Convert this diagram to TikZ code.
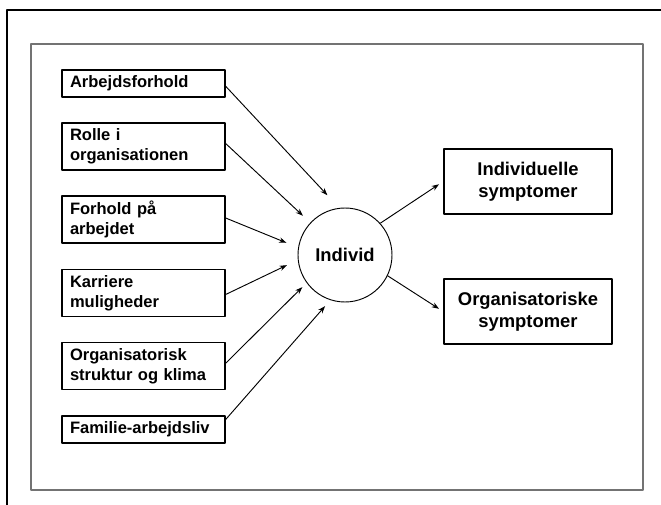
\documentclass[tikz,border=0pt]{standalone}
\usepackage{fontspec}
\setmainfont{Liberation Sans}
\usetikzlibrary{arrows.meta}
\begin{document}
\begin{tikzpicture}[x=0.75pt,y=-0.75pt, line join=round, >={Stealth[length=5.5pt,width=4pt]},
  faktor/.style={draw, line width=1.2pt, align=left, text width=110.25pt, inner xsep=6pt, inner ysep=0pt, font=\fontsize{12.4}{15}\selectfont\bfseries},
  symptom/.style={draw, line width=1.2pt, align=center, minimum width=126pt, minimum height=48.75pt, font=\fontsize{13.8}{16.5}\selectfont\bfseries},
  pil/.style={->, line width=0.7pt}]
\def \W{661};
\def \H{505};
\useasboundingbox (0,0) rectangle (\W,\H);
% rammer
\draw[line width=0.8pt] (7,\H) -- (7,10) -- (\W,10);
\draw[line width=1.2pt, black!55] (31,44) rectangle (643,490);
% faktorer til venstre
\foreach \n/\y/\h/\t in {arb/83.5/20.25/Arbejdsforhold, rol/146.5/35.25/{Rolle i\\organisationen}, fpa/219.5/35.25/{Forhold på\\arbejdet}, kar/293/35.25/{Karriere\\muligheder}, org/366/35.25/{Organisatorisk\\struktur og klima}, fam/429.5/20.25/Familie-arbejdsliv}
  {\node[faktor, minimum height=\h pt] (\n) at (143.5,\y) {\t};}
\node[draw, circle, minimum size=70.5pt, inner sep=0pt, line width=0.7pt, font=\fontsize{13.8}{16.5}\selectfont\bfseries] (ind) at (345,255) {Individ};
\node[symptom] (ib) at (528,181.5) {Individuelle\\symptomer};
\node[symptom] (ob) at (528,311.5) {Organisatoriske\\symptomer};
% pile
\foreach \n/\a/\b/\s in {arb/-2/97/13pt, rol/2/137/7.5pt, fpa/1/171/9.5pt, kar/-1/186/9pt, org/2/216/4.5pt, fam/7/252/6pt}
  {\draw[pil, shorten >=\s] (\n.\a) -- (ind.\b);}
\draw[pil, shorten >=3.75pt] (ind.42) -- (ib.west);
\draw[pil, shorten >=3.75pt] (ind.-26) -- (ob.west);
\end{tikzpicture}
\end{document}
